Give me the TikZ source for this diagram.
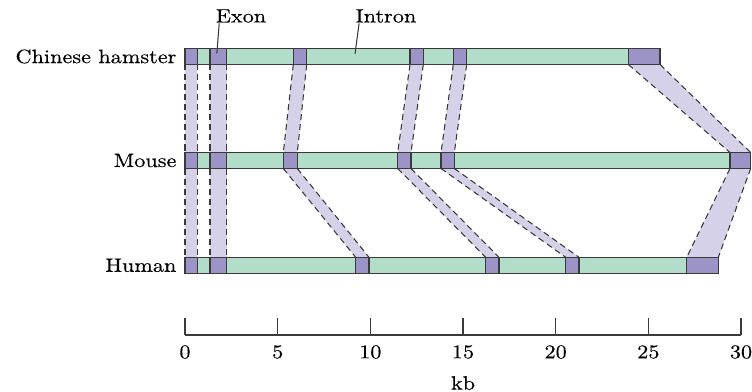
\documentclass[tikz,border=0pt]{standalone}
\usepackage{fontspec}
\setmainfont{lmroman10-regular}[Extension=.otf, FakeStretch=1.15, FakeBold=0.4]
\usetikzlibrary{calc,backgrounds}
\definecolor{intronc}{HTML}{B2DEC9}
\definecolor{exonc}{HTML}{9C94C7}
\definecolor{bandc}{HTML}{D5D1E8}
\definecolor{edgec}{HTML}{3A3A3A}
\tikzset{
  txt/.style={font=\fontsize{14.5}{17}\selectfont, inner sep=1pt},
  barbox/.style={draw=edgec, fill=intronc, line width=1.1pt, rectangle, inner sep=0pt, outer sep=0pt, minimum height=12pt},
  exonbox/.style={draw=edgec, fill=exonc, line width=1.1pt, rectangle, inner sep=0pt, outer sep=0pt, minimum height=12pt},
  bandedge/.style={draw=edgec, line width=0.8pt, dash pattern=on 4.5pt off 3pt},
  pointer/.style={draw=edgec, line width=0.8pt},
  axisline/.style={draw=edgec, line width=1.1pt},
}
\newcommand\mkbox[5]{\node[#1, minimum width={(#4-#3)*0.75pt}] (#2) at ({(#3+#4)/2},#5) {};}
\newcommand\mkband[2]{%
  \fill[bandc] (#1.south west) -- (#1.south east) -- (#2.north east) -- (#2.north west) -- cycle;
  \draw[bandedge] (#1.south west) -- (#2.north west);
  \draw[bandedge] (#1.south east) -- (#2.north east);}
\begin{document}
\begin{tikzpicture}[x=0.75pt,y=-0.75pt]
\useasboundingbox (0,0) rectangle (752,392);
% Chinese hamster
\mkbox{barbox}{bh}{185}{660}{56.5}
\mkbox{exonbox}{h1}{185}{197.3}{56.5}
\mkbox{exonbox}{h2}{210}{226.7}{56.5}
\mkbox{exonbox}{h3}{293.3}{306.7}{56.5}
\mkbox{exonbox}{h4}{410}{423.3}{56.5}
\mkbox{exonbox}{h5}{453.3}{466.7}{56.5}
\mkbox{exonbox}{h6}{628.3}{660}{56.5}
% Mouse
\mkbox{barbox}{bm}{185}{750.7}{160.5}
\mkbox{exonbox}{m1}{185}{197.3}{160.5}
\mkbox{exonbox}{m2}{210}{226.7}{160.5}
\mkbox{exonbox}{m3}{283.3}{297.3}{160.5}
\mkbox{exonbox}{m4}{397.7}{411}{160.5}
\mkbox{exonbox}{m5}{441}{454.3}{160.5}
\mkbox{exonbox}{m6}{730}{750.7}{160.5}
% Human
\mkbox{barbox}{bu}{185}{718.3}{265.3}
\mkbox{exonbox}{u1}{185}{197.3}{265.3}
\mkbox{exonbox}{u2}{210}{226.7}{265.3}
\mkbox{exonbox}{u3}{355.7}{369}{265.3}
\mkbox{exonbox}{u4}{485.7}{499}{265.3}
\mkbox{exonbox}{u5}{565.7}{579}{265.3}
\mkbox{exonbox}{u6}{686.7}{718.3}{265.3}
% bands
\begin{scope}[on background layer]
\foreach \i in {1,...,6}{\mkband{h\i}{m\i}\mkband{m\i}{u\i}}
\end{scope}
% row labels
\node[txt, anchor=east] (lh) at (178,56.5) {Chinese hamster};
\node[txt, anchor=east] (lm) at (178,160.5) {Mouse};
\node[txt, anchor=east] (lu) at (178,265.3) {Human};
% top labels
\node[txt] (exlbl) at (241,16) {Exon};
\node[txt] (inlbl) at (386,16) {Intron};
\coordinate (intr) at (355,54);
\draw[pointer] ($(exlbl.south west)+(5,-1)$) -- ($(h2.center)+(-1.5,-3)$);
\draw[pointer] ($(inlbl.south west)+(5,-1)$) -- (intr);
% axis
\coordinate (a0) at (185,335);
\coordinate (a30) at (741,335);
\draw[axisline] (a0) -- (a30);
\foreach \k in {0,5,...,30}{
  \draw[axisline] ({185+18.533*\k},335) -- ({185+18.533*\k},318);
  \node[txt] (t\k) at ({185+18.533*\k},352) {\k};
}
\node[txt] (kb) at (463,383) {kb};
\end{tikzpicture}
\end{document}
